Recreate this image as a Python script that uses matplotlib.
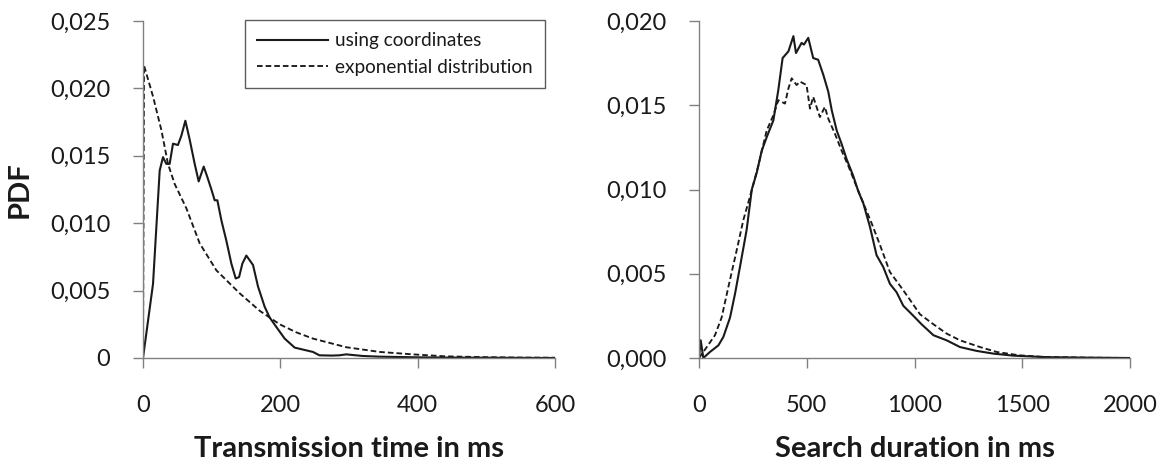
import matplotlib
matplotlib.use("Agg")
import matplotlib.pyplot as plt

plt.rcParams['font.family'] = ['Lato', 'DejaVu Sans']

# ---- Left panel: transmission time ----
trans_x_coord = [0, 14.6, 24.3, 29.1, 34, 38.8, 43.7, 50.9, 55.9, 61.7, 68, 75.3, 81.1, 88.4,
                 93.2, 99.6, 104.4, 108.3, 114.2, 121.4, 128.7, 135, 139.9, 144.7, 150.5, 160.2,
                 167.5, 177.2, 184.5, 194.2, 206.3, 220.9, 235, 247.5, 257, 275, 286, 296, 320,
                 344, 400, 450, 500, 550, 600]
trans_y_coord = [0, 0.0055, 0.0139, 0.0149, 0.0144, 0.0144, 0.0159, 0.0158, 0.0165, 0.0176,
                 0.0162, 0.0144, 0.0131, 0.0142, 0.0135, 0.0125, 0.0117, 0.0117, 0.0102, 0.0087,
                 0.0070, 0.0059, 0.0060, 0.0070, 0.0076, 0.0069, 0.0053, 0.0038, 0.0030, 0.0023,
                 0.00144, 0.00077, 0.0006, 0.00045, 0.0002, 0.00018, 0.0002, 0.00027, 0.00015,
                 0.0001, 0.00005, 0.00003, 0.00002, 0.00001, 0.0]
trans_x_exp = [0, 1.5, 14.6, 26.8, 36.4, 46.2, 63.2, 82.6, 106.9, 140.8, 170, 199, 223.4,
               247.5, 296, 344.6, 393, 441, 500, 550, 600]
trans_y_exp = [0, 0.0217, 0.0194, 0.0169, 0.0144, 0.0129, 0.0111, 0.0085, 0.0065, 0.0048,
               0.0035, 0.0025, 0.0019, 0.00144, 0.0008, 0.00045, 0.00027, 0.00012, 0.00006,
               0.00003, 0.00002]

# ---- Right panel: search duration ----
search_x_coord = [0, 8, 20, 51, 90, 113, 144, 167, 190, 221, 245, 268, 291, 314, 345, 368, 388,
                  415, 438, 450, 476, 487, 507, 530, 553, 577, 600, 616, 639, 662, 685, 716,
                  739, 762, 793, 824, 855, 886, 917, 948, 995, 1033, 1088, 1149, 1211, 1289,
                  1366, 1458, 1613, 1800, 2000]
search_y_coord = [0.0, 0.00105, 0.0, 0.00036, 0.00075, 0.00125, 0.0024, 0.0038, 0.0054, 0.0076,
                  0.0100, 0.0110, 0.0123, 0.0131, 0.0141, 0.0159, 0.0178, 0.0182, 0.0191,
                  0.0181, 0.0187, 0.0186, 0.0190, 0.0178, 0.0177, 0.0168, 0.0158, 0.0147,
                  0.0135, 0.0127, 0.0118, 0.0108, 0.0099, 0.0092, 0.0078, 0.0061, 0.0054,
                  0.0044, 0.0039, 0.0031, 0.0025, 0.0020, 0.00135, 0.00105, 0.00065, 0.00042,
                  0.00026, 0.00014, 0.00005, 0.00002, 0.0]
search_x_exp = [0, 36, 74, 105, 136, 175, 206, 237, 275, 314, 345, 368, 399, 415, 430, 453, 469,
                499, 515, 530, 561, 584, 600, 631, 662, 693, 724, 762, 801, 840, 886, 932, 971,
                1025, 1088, 1149, 1211, 1304, 1381, 1485, 1600, 1800, 2000]
search_y_exp = [0.0, 0.00065, 0.00135, 0.0024, 0.0042, 0.0064, 0.0082, 0.0096, 0.0114, 0.0135,
                0.0144, 0.0153, 0.0151, 0.0160, 0.0166, 0.0162, 0.0164, 0.0162, 0.0148, 0.0155,
                0.0143, 0.0149, 0.0142, 0.0133, 0.0123, 0.0114, 0.0104, 0.0092, 0.0080, 0.0067,
                0.0051, 0.0043, 0.0036, 0.0026, 0.0020, 0.00145, 0.00105, 0.00065, 0.00036,
                0.00016, 0.00006, 0.00002, 0.0]

left_xticks = [0, 200, 400, 600]
left_yticks = [0, 0.005, 0.010, 0.015, 0.020, 0.025]
left_yticklabels = ['0', '0,005', '0,010', '0,015', '0,020', '0,025']
right_xticks = [0, 500, 1000, 1500, 2000]
right_yticks = [0, 0.005, 0.010, 0.015, 0.020]
right_yticklabels = ['0,000', '0,005', '0,010', '0,015', '0,020']

label_solid = 'using coordinates'
label_dashed = 'exponential distribution'

W, H = 1164, 466
fig = plt.figure(figsize=(W / 100, H / 100), dpi=100)

axL = fig.add_axes([143 / W, (H - 358) / H, (555 - 143) / W, (358 - 21) / H])
axR = fig.add_axes([699 / W, (H - 358) / H, (1130 - 699) / W, (358 - 21) / H])

dash = (0, (3.0, 1.6))
lw = 1.5
col = '#1a1a1a'
axL.plot(trans_x_coord, trans_y_coord, color=col, lw=lw, label=label_solid)
axL.plot(trans_x_exp, trans_y_exp, color=col, lw=lw * 0.9, linestyle=dash, label=label_dashed)
axR.plot(search_x_coord, search_y_coord, color=col, lw=lw)
axR.plot(search_x_exp, search_y_exp, color=col, lw=lw * 0.9, linestyle=dash)

for ax, xt, yt, ytl, xmax, ymax in [
        (axL, left_xticks, left_yticks, left_yticklabels, 600, 0.025),
        (axR, right_xticks, right_yticks, right_yticklabels, 2000, 0.020)]:
    ax.set_xlim(0, xmax)
    ax.set_ylim(0, ymax)
    ax.set_xticks(xt)
    ax.set_xticklabels([str(v) for v in xt])
    ax.set_yticks(yt)
    ax.set_yticklabels(ytl)
    for s in ['top', 'right']:
        ax.spines[s].set_visible(False)
    for s in ['left', 'bottom']:
        ax.spines[s].set_color('#808080')
        ax.spines[s].set_linewidth(1.0)
    ax.tick_params(axis='both', direction='out', length=7.5, width=1.0, color='#808080',
                   labelsize=17, labelcolor='#1a1a1a')
    ax.tick_params(axis='y', pad=16)
    ax.tick_params(axis='x', pad=19)

label_y = -(436 - 358) / 337
axL.set_xlabel('Transmission time in ms', fontsize=21, fontweight='bold', color=col)
axL.xaxis.set_label_coords(0.5, label_y)
axL.set_ylabel('PDF', fontsize=21, fontweight='bold', color=col)
axL.yaxis.set_label_coords((33 - 143) / 412, 0.5)
axR.set_xlabel('Search duration in ms', fontsize=21, fontweight='bold', color=col)
axR.xaxis.set_label_coords(0.5, label_y)

leg = axL.legend(loc='upper left', bbox_to_anchor=(245 / W, (H - 20) / H),
                 bbox_transform=fig.transFigure, fontsize=13.7, frameon=True,
                 fancybox=False, edgecolor='#333333', handlelength=3.7, handletextpad=0.4,
                 borderpad=0.65, labelspacing=0.5, borderaxespad=0)
leg.get_frame().set_linewidth(1.0)
for t in leg.get_texts():
    t.set_color(col)

fig.savefig('out.png', dpi=100)
